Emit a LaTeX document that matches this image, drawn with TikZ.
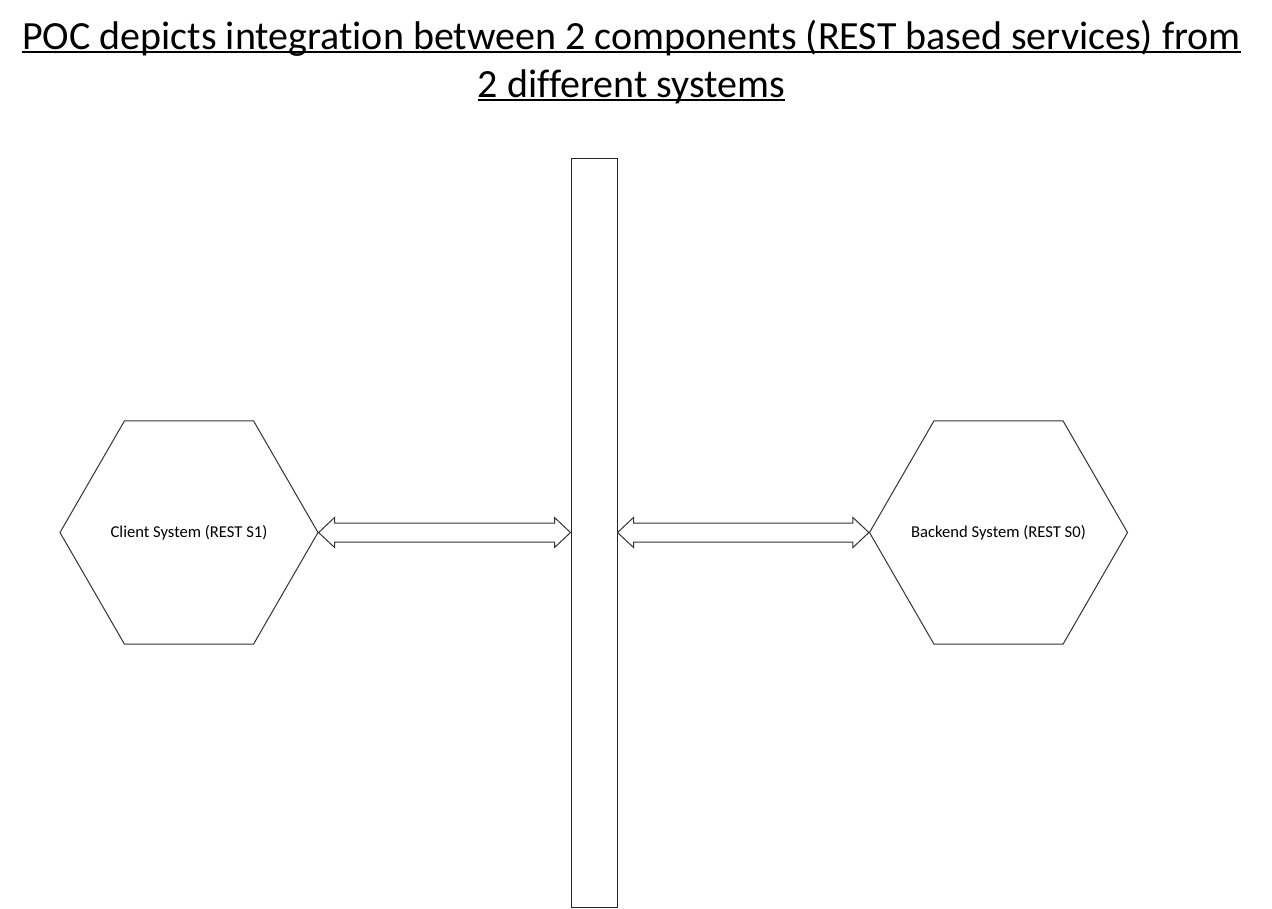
\documentclass[tikz,border=0pt]{standalone}
\usepackage{fontspec}
\setmainfont{Carlito}[Ligatures=NoCommon]
\usetikzlibrary{shapes.geometric,calc}
\tikzset{
  hexbox/.style={regular polygon, regular polygon sides=6, minimum size=258pt, inner sep=0pt,
    draw=black!80, line width=1pt},
  hexlabel/.style={inner sep=0pt, font=\fontsize{16.6}{20}\selectfont, text=black},
  barbox/.style={rectangle, draw=black!85, line width=1pt, minimum width=46pt, minimum height=749pt, inner sep=0pt},
  arrowline/.style={draw=black!80, line width=1pt, fill=white, line join=miter},
  titletext/.style={font=\fontsize{40}{48}\selectfont, inner sep=0pt, anchor=base},
  uline/.style={line width=2pt, black}
}
\newcommand{\dblarr}[2]{%
  \draw[arrowline] (#1) -- ++(16,15) -- ++(0,-5.5) -- ($(#2)+(-16,9.5)$) -- ++(0,5.5) -- (#2)
    -- ++(-16,-15) -- ++(0,5.5) -- ($(#1)+(16,-9.5)$) -- ++(0,-5.5) -- cycle;}
\begin{document}
\begin{tikzpicture}[x=1pt,y=1pt]
\useasboundingbox (0,0) rectangle (1272,-908);
\node[titletext] (title1) at (631.5,-49) {POC depicts integration between 2 components (REST based services) from};
\node[titletext] (title2) at (631.5,-97) {2 different systems};
\draw[uline] ([yshift=-3pt]title1.base west) -- ([yshift=-3pt]title1.base east);
\draw[uline] ([yshift=-3pt]title2.base west) -- ([yshift=-3pt]title2.base east);
\node[barbox] (bar) at (594,-532.5) {};
\node[hexbox] (client) at (189,-532.5) {};
\node[hexlabel] (clientlabel) at (client.center) {Client System (REST S1)};
\node[hexbox] (backend) at (998.5,-532.5) {};
\node[hexlabel] (backendlabel) at (backend.center) {Backend System (REST S0)};
\coordinate (cr) at (client.east);
\coordinate (bl) at (bar.west |- client.east);
\coordinate (br) at (bar.east |- backend.west);
\coordinate (kl) at (backend.west);
\dblarr{cr}{bl}
\dblarr{br}{kl}
\end{tikzpicture}
\end{document}
